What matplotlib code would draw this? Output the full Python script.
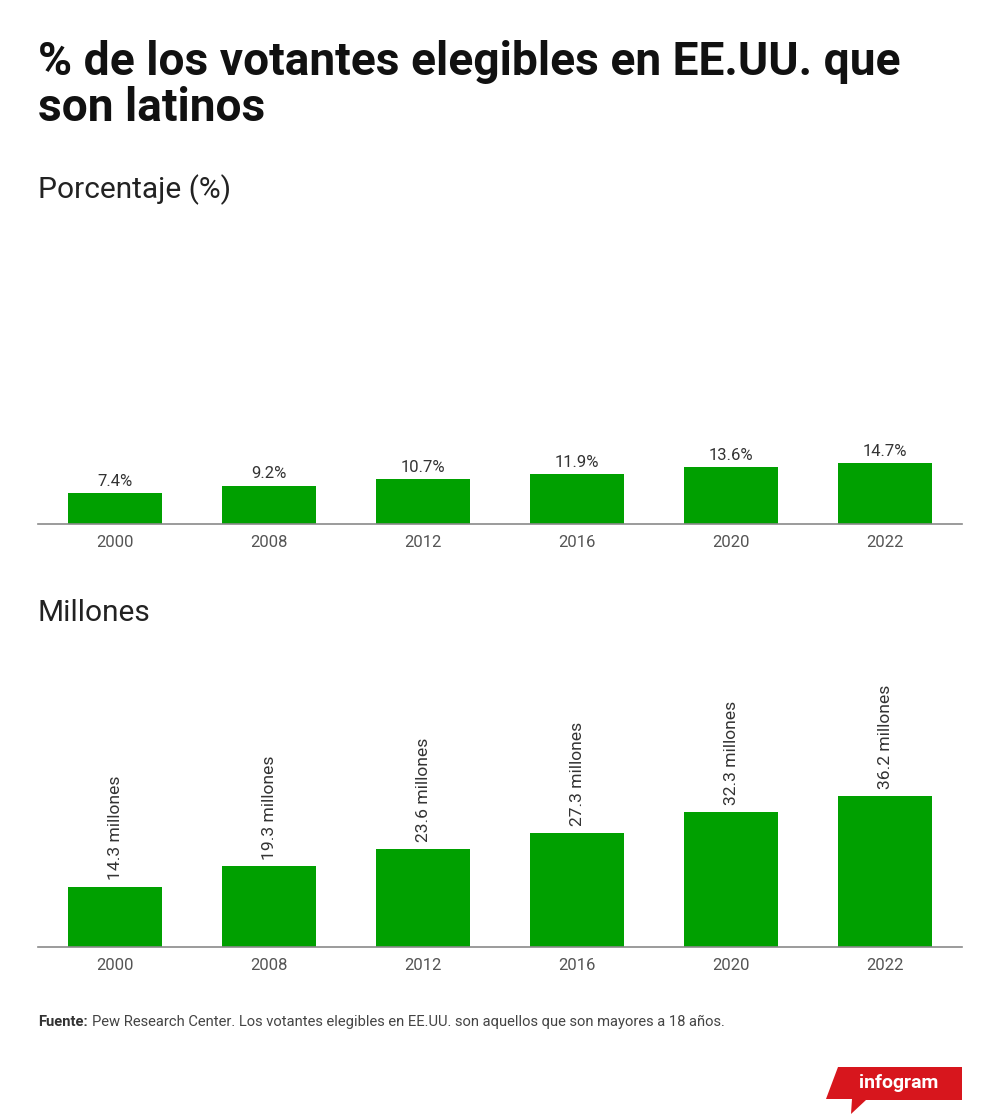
import numpy as np
import matplotlib
matplotlib.use('Agg')
import matplotlib.pyplot as plt
from matplotlib.patches import Polygon

plt.rcParams['font.family'] = ['Roboto', 'DejaVu Sans']

# Datos
anios = ['2000', '2008', '2012', '2016', '2020', '2022']
porcentaje = [7.4, 9.2, 10.7, 11.9, 13.6, 14.7]
millones = [14.3, 19.3, 23.6, 27.3, 32.3, 36.2]

verde = '#00a000'
W, H = 1000, 1117

fig = plt.figure(figsize=(W / 100, H / 100), dpi=100)

def px(x, y):
    # pixel -> coordenadas de figura
    return x / W, 1 - y / H

fig.text(*px(38, 62), '% de los votantes elegibles en EE.UU. que', fontsize=33.2,
         fontweight='bold', color='#111111', va='center', ha='left')
fig.text(*px(38, 108), 'son latinos', fontsize=33.2,
         fontweight='bold', color='#111111', va='center', ha='left')
fig.text(*px(38, 190), 'Porcentaje (%)', fontsize=21.5, color='#222222',
         va='center', ha='left')
fig.text(*px(38, 613), 'Millones', fontsize=21.5, color='#222222',
         va='center', ha='left')


def panel(bottom_px, valores, etiquetas, vertical):
    h = 312
    ax = fig.add_axes([38 / W, (H - bottom_px) / H, 924 / W, h / H])
    x = np.arange(len(anios))
    ax.bar(x, valores, width=0.61, color=verde, zorder=2)
    ax.set_xlim(-0.5, len(anios) - 0.5)
    ax.set_ylim(0, 74.8)
    for s in ['top', 'right', 'left']:
        ax.spines[s].set_visible(False)
    ax.spines['bottom'].set_color('#8a8a8a')
    ax.spines['bottom'].set_linewidth(1.2)
    ax.set_yticks([])
    ax.set_xticks(x)
    ax.set_xticklabels(anios, fontsize=12, color='#555555')
    ax.tick_params(axis='x', length=0, pad=8)
    for xi, v, t in zip(x, valores, etiquetas):
        if vertical:
            ax.annotate(t, (xi, v), xytext=(0, 5), textcoords='offset points',
                        rotation=90, ha='center', va='bottom', fontsize=12.6,
                        color='#333333')
        else:
            ax.annotate(t, (xi, v), xytext=(0, 3), textcoords='offset points',
                        ha='center', va='bottom', fontsize=12, color='#333333')
    return ax


panel(524, porcentaje, [f'{p}%' for p in porcentaje], False)
panel(947, millones, [f'{m} millones' for m in millones], True)

# Nota de fuente
t1 = fig.text(*px(38, 1022), 'Fuente:', fontsize=10.6, fontweight='bold',
              color='#333333', va='center', ha='left')
rend = fig.canvas.get_renderer()
fin = t1.get_window_extent(rend).x1
fig.text((fin + 4) / W, 1 - 1022 / H,
         'Pew Research Center. Los votantes elegibles en EE.UU. '
         'son aquellos que son mayores a 18 años.', fontsize=10.6,
         color='#444444', va='center', ha='left')

# Logo infogram
forma = [(826, 1099), (838, 1067), (962, 1067), (962, 1100), (866, 1100),
         (851, 1114), (852, 1099)]
fig.patches.append(Polygon([px(a, b) for a, b in forma], closed=True,
                           transform=fig.transFigure, facecolor='#d7161d',
                           edgecolor='none'))
fig.text(*px(899, 1083), 'infogram', fontsize=14, fontweight='bold',
         color='white', va='center', ha='center', fontstretch='condensed')

fig.savefig('out.png', dpi=100, facecolor='white')
